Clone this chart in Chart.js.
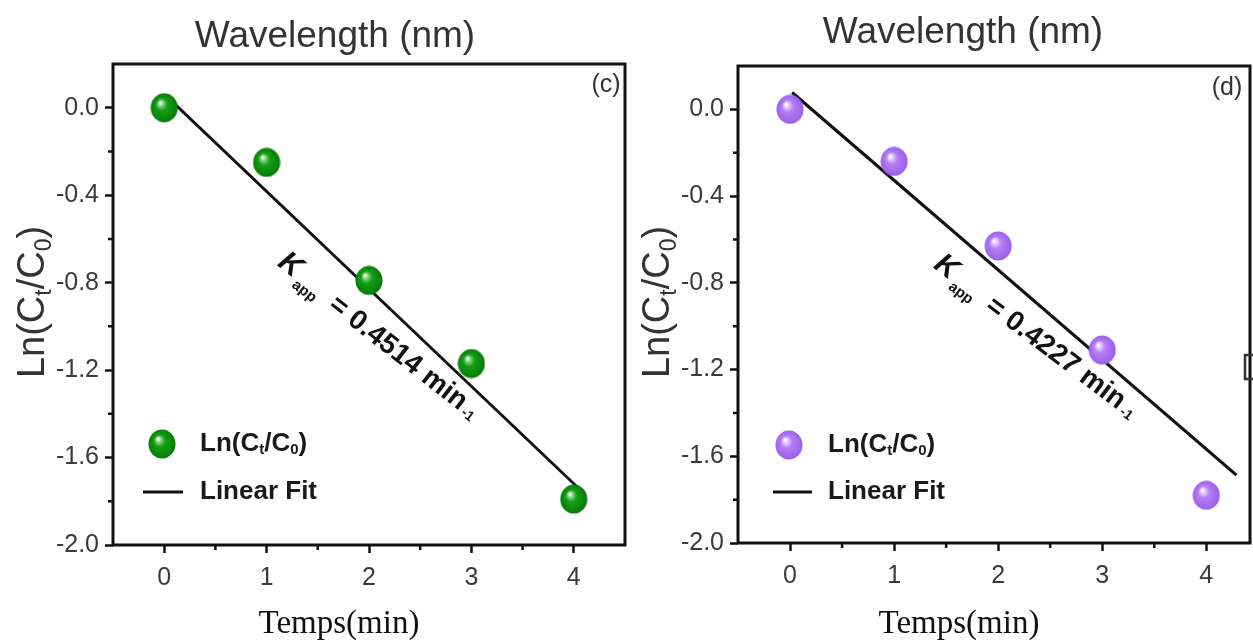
<!DOCTYPE html>
<html><head><meta charset="utf-8">
<script src="https://cdn.jsdelivr.net/npm/chart.js@4.4.0/dist/chart.umd.min.js"></script>
<style>
html,body{margin:0;padding:0;background:#fff;overflow:hidden;width:1253px;height:640px;position:relative;}
canvas{position:absolute;top:0;}
#c1{left:0px}
#c2{left:625px}
</style></head><body>
<canvas id="c1" width="640" height="640"></canvas>
<canvas id="c2" width="640" height="640"></canvas>
<script>
// ---------- DATA ----------
const timeMin = [0, 1, 2, 3, 4];
const lnC_c = [0.0, -0.25, -0.79, -1.17, -1.79];
const lnC_d = [0.0, -0.24, -0.63, -1.11, -1.78];
const fitX_c = [0.04, 4.08];
const fitY_c = [0.045, -1.755];
const fitX_d = [0.02, 4.29];
const fitY_d = [0.078, -1.687];
const kValue_c = '0.4514';
const kValue_d = '0.4227';
const xTickValues = [0, 1, 2, 3, 4];
const yTickValues = [-2.0, -1.6, -1.2, -0.8, -0.4, 0.0];
const xMinorTicks = [0.5, 1.5, 2.5, 3.5];
const yMinorTicks = [-1.8, -1.4, -1.0, -0.6, -0.2];
const topTitle = 'Wavelength (nm)';
const xTitle = 'Temps(min)';
const legendFit = 'Linear Fit';

// ---------- STYLE / LAYOUT ----------
const SANS = "'Liberation Sans', Arial, Helvetica, sans-serif";
const SERIF = "'Liberation Serif', 'Times New Roman', serif";

function sphere(light, base, dark, w, h){
  const c = document.createElement('canvas'); c.width = w; c.height = h;
  const g = c.getContext('2d');
  g.translate(w/2, h/2); g.scale(1, h/w);
  const r = w/2 - 0.5;
  const grad = g.createRadialGradient(-r*0.3, -r*0.36, r*0.04, 0, 0, r);
  grad.addColorStop(0, '#ffffff');
  grad.addColorStop(0.15, light);
  grad.addColorStop(0.4, base);
  grad.addColorStop(1, dark);
  g.beginPath(); g.arc(0, 0, r, 0, Math.PI*2); g.fillStyle = grad; g.fill();
  return c;
}

const panels = [
  { id:'c1', pts:lnC_c, fitX:fitX_c, fitY:fitY_c, k:kValue_c, label:'(c)',
    ball: sphere('#88d488', '#14a014', '#087a08', 28, 30), fitWidth:2.8,
    area:{left:113, top:64, right:631, bottom:545}, xMax:4.5, yMax:0.2,
    titleX:335, titleY:47, xTitleX:339, xTitleY:633, yTitleX:44, yTitleY:302,
    kAnchor:[1.23, -0.72], kAngle:38,
    legend:{mx:49, my:444, tx:87, ly:492, l0:30, l1:70},
    labelPos:[606, 85], extraBox:null },
  { id:'c2', pts:lnC_d, fitX:fitX_d, fitY:fitY_d, k:kValue_d, label:'(d)',
    ball: sphere('#e4ccff', '#b67ef5', '#9a5eea', 28, 30), fitWidth:3.2,
    area:{left:113, top:66, right:626, bottom:543}, xMax:4.42, yMax:0.2,
    titleX:338, titleY:43, xTitleX:334, xTitleY:633, yTitleX:44, yTitleY:302,
    kAnchor:[1.50, -0.728], kAngle:37,
    legend:{mx:51, my:445, tx:90, ly:492, l0:35, l1:74},
    labelPos:[602, 88], extraBox:[620, 355, 22, 24] }
];

function drawRich(ctx, x, y, parts){
  let cx = x;
  for (const p of parts){
    cx += (p.pre || 0);
    ctx.font = p.f;
    ctx.fillText(p.t, cx, y + (p.dy || 0));
    cx += ctx.measureText(p.t).width;
  }
  return cx;
}
function richWidth(ctx, parts){
  let w = 0;
  for (const p of parts){ ctx.font = p.f; w += ctx.measureText(p.t).width + (p.pre || 0); }
  return w;
}

function decoPlugin(P){
  return {
    id:'deco',
    afterDraw(chart){
      const ctx = chart.ctx, a = chart.chartArea, xs = chart.scales.x, ys = chart.scales.y;
      ctx.save();
      // frame
      ctx.strokeStyle = '#111'; ctx.lineWidth = 3;
      ctx.strokeRect(a.left, a.top, a.right - a.left, a.bottom - a.top);
      // minor ticks
      ctx.lineWidth = 2.5; ctx.beginPath();
      for (const v of xMinorTicks){ const px = xs.getPixelForValue(v); ctx.moveTo(px, a.bottom); ctx.lineTo(px, a.bottom + 5); }
      for (const v of yMinorTicks){ const py = ys.getPixelForValue(v); ctx.moveTo(a.left, py); ctx.lineTo(a.left - 5, py); }
      ctx.stroke();

      // top title
      ctx.fillStyle = '#333'; ctx.textAlign = 'center'; ctx.textBaseline = 'alphabetic';
      ctx.font = '37px ' + SANS;
      ctx.fillText(topTitle, P.titleX, P.titleY);
      // x title
      ctx.fillStyle = '#111'; ctx.font = '33px ' + SERIF;
      ctx.fillText(xTitle, P.xTitleX, P.xTitleY);
      // y title
      ctx.textAlign = 'left'; ctx.fillStyle = '#333';
      const yParts = [
        {t:'Ln(C', f:'38px ' + SANS},
        {t:'t', f:'23px ' + SANS, dy:7},
        {t:'/C', f:'38px ' + SANS},
        {t:'0', f:'23px ' + SANS, dy:7},
        {t:')', f:'38px ' + SANS}
      ];
      ctx.save();
      ctx.translate(P.yTitleX, P.yTitleY); ctx.rotate(-Math.PI/2);
      drawRich(ctx, -richWidth(ctx, yParts)/2, 0, yParts);
      ctx.restore();

      // panel label
      ctx.textAlign = 'center'; ctx.textBaseline = 'middle'; ctx.fillStyle = '#333';
      ctx.font = '25px ' + SANS;
      ctx.fillText(P.label, P.labelPos[0], P.labelPos[1]);

      // legend
      const L = P.legend;
      ctx.drawImage(P.ball, a.left + L.mx - P.ball.width/2, L.my - P.ball.height/2);
      ctx.strokeStyle = '#111'; ctx.lineWidth = 3;
      ctx.beginPath(); ctx.moveTo(a.left + L.l0, L.ly); ctx.lineTo(a.left + L.l1, L.ly); ctx.stroke();
      ctx.textAlign = 'left'; ctx.textBaseline = 'middle'; ctx.fillStyle = '#1a1a1a';
      drawRich(ctx, a.left + L.tx, L.my, [
        {t:'Ln(C', f:'bold 26px ' + SANS},
        {t:'t', f:'bold 15px ' + SANS, dy:6},
        {t:'/C', f:'bold 26px ' + SANS},
        {t:'0', f:'bold 15px ' + SANS, dy:6},
        {t:')', f:'bold 26px ' + SANS}
      ]);
      ctx.font = 'bold 26px ' + SANS;
      ctx.fillText(legendFit, a.left + L.tx, L.ly);

      // K annotation
      const ax = xs.getPixelForValue(P.kAnchor[0]), ay = ys.getPixelForValue(P.kAnchor[1]);
      ctx.save();
      ctx.translate(ax, ay); ctx.rotate(P.kAngle * Math.PI / 180);
      ctx.fillStyle = '#111'; ctx.textBaseline = 'middle'; ctx.textAlign = 'left';
      ctx.font = 'italic bold 30px ' + SANS;
      const wK = ctx.measureText('K').width;
      drawRich(ctx, -wK/2, 0, [
        {t:'K', f:'italic bold 30px ' + SANS},
        {t:'app', f:'bold 15px ' + SANS, dy:12, pre:3},
        {t:'= ' + P.k + ' min', f:'bold 28px ' + SANS, dy:3, pre:15},
        {t:'-1', f:'bold 14px ' + SANS, dy:9, pre:3}
      ]);
      ctx.restore();

      if (P.extraBox){
        ctx.strokeStyle = '#333'; ctx.lineWidth = 2.5;
        ctx.strokeRect(P.extraBox[0], P.extraBox[1], P.extraBox[2], P.extraBox[3]);
      }
      ctx.restore();
    }
  };
}

function makePanel(P){
  const A = P.area;
  const H = 640, W = 640;
  new Chart(document.getElementById(P.id), {
    type:'scatter',
    data:{
      datasets:[
        { label:'Ln(Ct/C0)', data: timeMin.map((x, i) => ({x, y:P.pts[i]})),
          pointStyle:P.ball, pointRadius:14, pointHoverRadius:14, showLine:false, order:1 },
        { label:legendFit, data: P.fitX.map((x, i) => ({x, y:P.fitY[i]})),
          showLine:true, borderColor:'#111', borderWidth:P.fitWidth, pointRadius:0, fill:false, order:2 }
      ]
    },
    options:{
      responsive:false, animation:false, events:[],
      layout:{ padding:{ left:0, top:A.top, right:W - A.right, bottom:0 } },
      plugins:{ legend:{display:false}, tooltip:{enabled:false}, title:{display:false} },
      scales:{
        x:{ type:'linear', min:-0.5, max:P.xMax,
          afterFit(s){ s.height = H - A.bottom; },
          afterBuildTicks(s){ s.ticks = xTickValues.map(v => ({value:v})); },
          grid:{ display:true, drawOnChartArea:false, drawTicks:true, tickLength:8, tickWidth:2.5, tickColor:'#111' },
          border:{ display:false },
          ticks:{ color:'#3a3a3a', font:{family:SANS, size:25}, padding:10, maxRotation:0, autoSkip:false,
                  callback:v => String(v) }
        },
        y:{ type:'linear', min:-2.0, max:P.yMax,
          afterFit(s){ s.width = A.left; },
          afterBuildTicks(s){ s.ticks = yTickValues.map(v => ({value:v})); },
          grid:{ display:true, drawOnChartArea:false, drawTicks:true, tickLength:8, tickWidth:2.5, tickColor:'#111' },
          border:{ display:false },
          ticks:{ color:'#3a3a3a', font:{family:SANS, size:25}, padding:6, autoSkip:false,
                  callback:v => Number(v).toFixed(1) }
        }
      }
    },
    plugins:[decoPlugin(P)]
  });
}
panels.forEach(makePanel);
</script>
</body></html>
